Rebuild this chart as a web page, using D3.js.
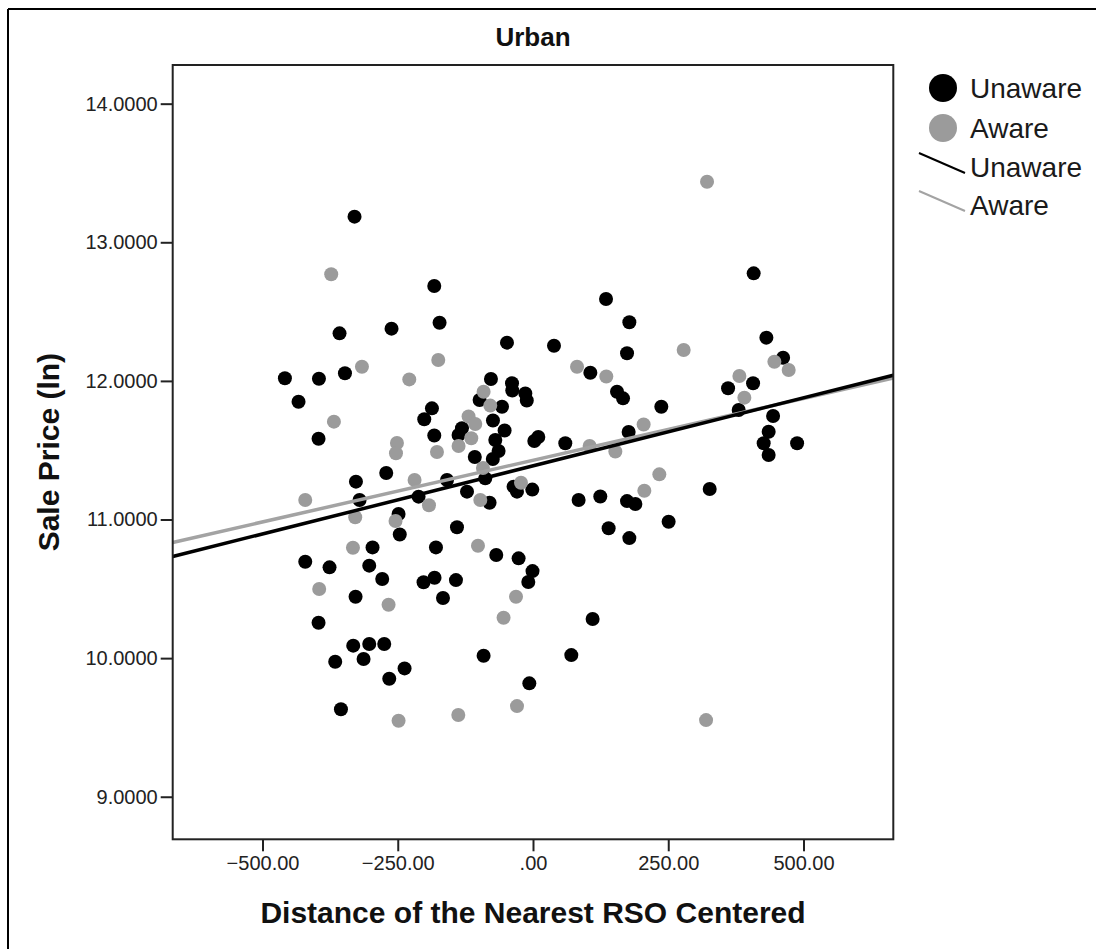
<!DOCTYPE html>
<html>
<head>
<meta charset="utf-8">
<script src="https://cdn.jsdelivr.net/npm/d3@7"></script>
<style>
  html, body { margin: 0; padding: 0; background: #fff; }
  svg { display: block; font-family: "Liberation Sans", Arial, sans-serif; }
</style>
</head>
<body>
<svg id="chart" width="1096" height="949"></svg>
<script>
// ---- Data ----
const unawareX = [-329.9,-182.5,-172.7,-357.6,-261.5,-48.1,-458.6,-395.7,-347.6,-433.4,
  -77.7,-38.8,-38.3,-14.2,-11.5,-98.7,-57.3,-186.8,-201,-74,
  -52.5,-131.3,-137.6,-182.5,-396.4,-69.7,2.4,9.8,-63.6,-74.3,
  -107.6,-271.3,-327.3,-320.6,-159,-211.5,-122,-88.2,-80.3,-35.9,
  -29.6,-1.3,-248.5,-246.3,-140.5,-296.6,-179.4,-67.9,-26.6,-0.9,
  -8.7,-421,-376.1,-302.7,-278.7,-202.3,-182,-142.4,-328,-166.4,
  -396.4,-332.3,-302.7,-275,-365.6,-313.2,-91.3,-237.4,-265.7,-6.8,
  -355,106,155.3,166.4,237.2,59.7,176.8,84.3,124.4,173.8,
  189.2,250.7,139.8,178.1,407.9,135,178.1,38.8,173.8,431.4,
  462.3,360.6,406.8,380.2,443.8,435.6,426.4,488.2,435.6,326.6,
  110.2,70.8];
const unawareY = [13.185,12.685,12.42,12.343,12.377,12.276,12.019,12.016,12.055,11.85,
  12.014,11.983,11.931,11.91,11.859,11.862,11.814,11.802,11.723,11.714,
  11.642,11.658,11.61,11.606,11.583,11.574,11.566,11.595,11.494,11.437,
  11.451,11.336,11.273,11.141,11.285,11.165,11.201,11.297,11.121,11.237,
  11.201,11.216,11.04,10.892,10.944,10.799,10.799,10.744,10.72,10.628,
  10.549,10.695,10.655,10.667,10.571,10.547,10.58,10.563,10.443,10.434,
  10.255,10.09,10.102,10.102,9.974,9.994,10.017,9.926,9.851,9.818,
  9.631,12.059,11.922,11.874,11.814,11.55,11.631,11.141,11.166,11.133,
  11.112,10.984,10.937,10.866,12.776,12.591,12.423,12.254,12.199,12.312,
  12.167,11.947,11.983,11.79,11.747,11.633,11.55,11.55,11.465,11.22,
  10.282,10.022];

const awareX = [-373,-316.2,-228.7,-175.1,-91.3,-79,-119.1,-106.7,-114.1,-368,
  -251.5,-177.5,-137.6,-253.3,-92.5,-421,-218.9,-328.6,-254.1,-192.3,
  -97.4,-22.2,-332.8,-101.7,-395.2,-267,-31.4,-54.4,-248.5,-138.1,
  -29.6,321.7,81.4,135.5,278.5,381.5,446.2,472.6,390.7,204.5,
  152.2,233.5,205.8,319.9,104.7];
const awareY = [12.769,12.102,12.011,12.151,11.922,11.822,11.743,11.689,11.586,11.706,
  11.552,11.487,11.53,11.478,11.372,11.141,11.285,11.016,10.989,11.1025,
  11.141,11.2655,10.7965,10.811,10.4985,10.385,10.443,10.2915,9.548,9.5895,
  9.654,13.437,12.102,12.032,12.223,12.035,12.1385,12.079,11.879,11.685,
  11.491,11.326,11.208,9.553,11.53];

// Linear fit lines (intercept, slope) per group
const fitGroups = ["Unaware", "Aware"];
const fitIntercepts = [11.387, 11.4275];
const fitSlopes = [0.000982, 0.00089];

const xTicks = [-500, -250, 0, 250, 500];
const yTicks = [9, 10, 11, 12, 13, 14];
const xDomain = [-666, 666];
const yDomain = [8.693, 14.279];

const chartTitle = "Urban";
const xTitle = "Distance of the Nearest RSO Centered";
const yTitle = "Sale Price (ln)";
const legendMarkerLabels = ["Unaware", "Aware"];
const legendLineLabels = ["Unaware", "Aware"];

// ---- Styles ----
const BLACK = "#000000";
const GRAY = "#9b9b9b";
const LINE_GRAY = "#a3a3a3";

const svg = d3.select("#chart");

// outer frame (only top and left visible)
svg.append("line").attr("x1", 8).attr("y1", 9).attr("x2", 1096).attr("y2", 9)
  .attr("stroke", "#000").attr("stroke-width", 2);
svg.append("line").attr("x1", 8).attr("y1", 9).attr("x2", 8).attr("y2", 949)
  .attr("stroke", "#000").attr("stroke-width", 2);

const plot = { left: 172.7, top: 65, right: 893.3, bottom: 839.3 };

const x = d3.scaleLinear().domain(xDomain).range([plot.left, plot.right]);
const y = d3.scaleLinear().domain(yDomain).range([plot.bottom, plot.top]);

// clip
svg.append("clipPath").attr("id", "clip").append("rect")
  .attr("x", plot.left).attr("y", plot.top)
  .attr("width", plot.right - plot.left).attr("height", plot.bottom - plot.top);

const g = svg.append("g").attr("clip-path", "url(#clip)");

// points
g.selectAll("circle.unaware").data(d3.zip(unawareX, unawareY)).join("circle")
  .attr("class", "unaware")
  .attr("cx", d => x(d[0])).attr("cy", d => y(d[1])).attr("r", 7)
  .attr("fill", BLACK);
g.selectAll("circle.aware").data(d3.zip(awareX, awareY)).join("circle")
  .attr("class", "aware")
  .attr("cx", d => x(d[0])).attr("cy", d => y(d[1])).attr("r", 7)
  .attr("fill", GRAY);

// fit lines (gray first, black on top)
const fitData = fitGroups.map((name, i) => ({
  name, pts: xDomain.map(v => [v, fitIntercepts[i] + fitSlopes[i] * v])
}));
const lineGen = d3.line().x(d => x(d[0])).y(d => y(d[1]));
[1, 0].forEach(i => {
  g.append("path").attr("d", lineGen(fitData[i].pts))
    .attr("fill", "none")
    .attr("stroke", i === 0 ? BLACK : LINE_GRAY)
    .attr("stroke-width", 3.5);
});

// frame
svg.append("rect")
  .attr("x", plot.left).attr("y", plot.top)
  .attr("width", plot.right - plot.left).attr("height", plot.bottom - plot.top)
  .attr("fill", "none").attr("stroke", "#222").attr("stroke-width", 2);

// axes
const fmtX = v => { const s = d3.format(".2f")(v); return s.replace(/^0\./, ".").replace(/^-0\./, "-."); };
const xAxis = d3.axisBottom(x).tickValues(xTicks).tickFormat(fmtX).tickSize(12).tickPadding(5);
const yAxis = d3.axisLeft(y).tickValues(yTicks).tickFormat(d3.format(".4f")).tickSize(12).tickPadding(3);

const gx = svg.append("g").attr("transform", `translate(0,${plot.bottom})`).call(xAxis);
const gy = svg.append("g").attr("transform", `translate(${plot.left},0)`).call(yAxis);
[gx, gy].forEach(ax => {
  ax.select(".domain").remove();
  ax.selectAll(".tick line").attr("stroke", "#222").attr("stroke-width", 2);
  ax.selectAll(".tick text").attr("fill", "#222")
    .style("font-family", "'Liberation Sans', Arial, sans-serif")
    .style("font-size", "20px");
});

// titles
svg.append("text").attr("x", (plot.left + plot.right) / 2).attr("y", 46)
  .attr("text-anchor", "middle").attr("font-size", 26).attr("font-weight", "bold")
  .attr("fill", "#111").text(chartTitle);
svg.append("text").attr("x", (plot.left + plot.right) / 2).attr("y", 923)
  .attr("text-anchor", "middle").attr("font-size", 30).attr("font-weight", "bold")
  .attr("fill", "#111").text(xTitle);
svg.append("text").attr("transform", `translate(59,${(plot.top + plot.bottom) / 2}) rotate(-90)`)
  .attr("text-anchor", "middle").attr("font-size", 30).attr("font-weight", "bold")
  .attr("fill", "#111").text(yTitle);

// legend
const legend = svg.append("g");
const markerColors = [BLACK, GRAY];
const lineColors = [BLACK, LINE_GRAY];
const rowY = [88, 128, 167, 205];
legendMarkerLabels.forEach((lab, i) => {
  legend.append("circle").attr("cx", 943).attr("cy", rowY[i]).attr("r", 14)
    .attr("fill", markerColors[i]);
  legend.append("text").attr("x", 970).attr("y", rowY[i] + 10)
    .attr("font-size", 28).attr("fill", "#1a1a1a").text(lab);
});
legendLineLabels.forEach((lab, i) => {
  const yy = rowY[i + 2];
  legend.append("line").attr("x1", 919).attr("y1", yy - 14).attr("x2", 965).attr("y2", yy + 6)
    .attr("stroke", lineColors[i]).attr("stroke-width", 2);
  legend.append("text").attr("x", 970).attr("y", yy + 10)
    .attr("font-size", 28).attr("fill", "#1a1a1a").text(lab);
});
</script>
</body>
</html>
